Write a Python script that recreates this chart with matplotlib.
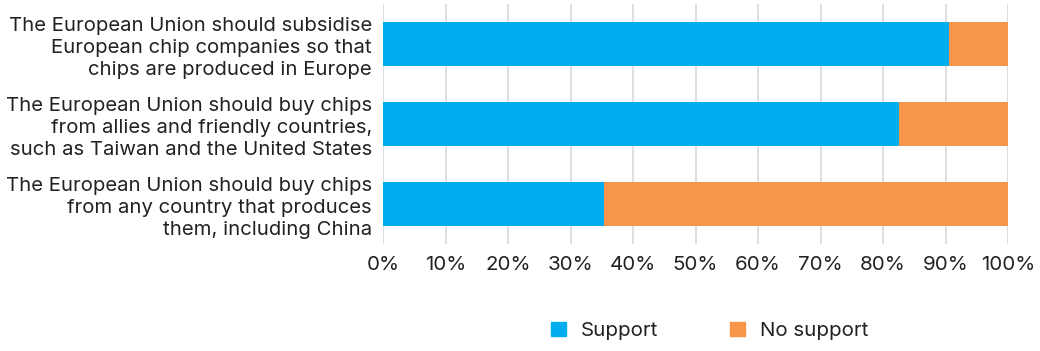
import matplotlib
matplotlib.use("Agg")
import matplotlib.pyplot as plt
from matplotlib.patches import Patch

categories = [
    "The European Union should subsidise\nEuropean chip companies so that\nchips are produced in Europe",
    "The European Union should buy chips\nfrom allies and friendly countries,\nsuch as Taiwan and the United States",
    "The European Union should buy chips\nfrom any country that produces\nthem, including China",
]
support = [90.6, 82.6, 35.4]
no_support = [100 - v for v in support]
ticks = [0, 10, 20, 30, 40, 50, 60, 70, 80, 90, 100]
tick_labels = [f"{t}%" for t in ticks]

blue = "#00AEEF"
orange = "#F7964A"
plt.rcParams['font.family'] = ['Inter', 'DejaVu Sans']

fig = plt.figure(figsize=(10.4, 3.51), dpi=100)
ax = fig.add_axes([383/1040, 1 - 244/351, (1008-383)/1040, 240/351])

y = list(range(len(categories)))
ax.barh(y, support, height=0.55, color=blue, zorder=3)
ax.barh(y, no_support, left=support, height=0.55, color=orange, zorder=3)
ax.set_ylim(2.5, -0.5)
ax.set_xlim(0, 100)
ax.set_xticks(ticks)
ax.set_xticklabels(tick_labels, fontsize=14.8, color="#222222")
ax.set_yticks(y)
ax.set_yticklabels(categories, fontsize=14.6, color="#222222", linespacing=1.28)
ax.tick_params(axis='both', length=0, pad=8)
ax.tick_params(axis='x', pad=9)
ax.grid(axis='x', color="#D9D9D9", linewidth=1.2, zorder=0)
for s in ax.spines.values():
    s.set_visible(False)

handles = [Patch(color=blue, label="Support"), Patch(color=orange, label="No support")]
fig.legend(handles=handles, loc='center', bbox_to_anchor=(710/1040, 1 - 331/351), ncol=2,
           frameon=False, fontsize=14.8, handlelength=0.7, handleheight=0.7,
           columnspacing=3.5, handletextpad=0.75, labelcolor="#222222")

fig.savefig("out.png", dpi=100)
